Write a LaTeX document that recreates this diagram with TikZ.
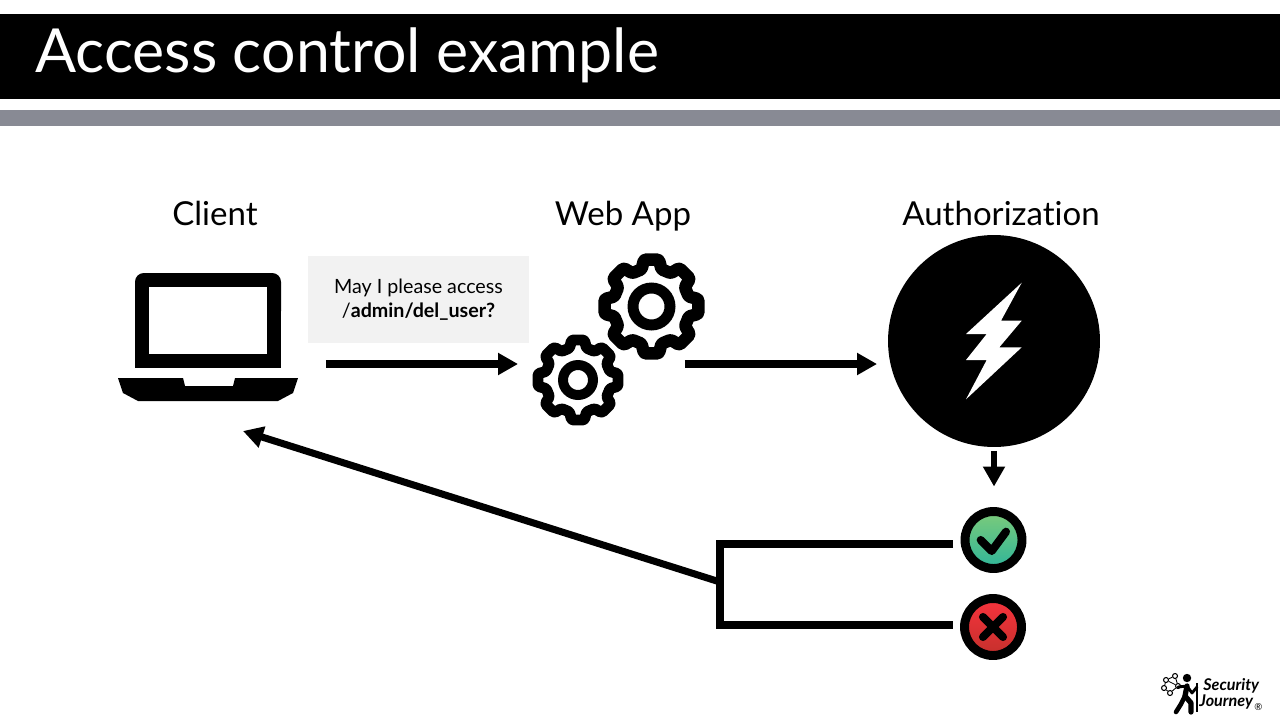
\documentclass[tikz,border=0pt]{standalone}
\usepackage{fontspec}
\setmainfont[Ligatures=NoCommon]{Lato}
\usetikzlibrary{arrows.meta}
\definecolor{barGrey}{HTML}{888A94}
\definecolor{noteGrey}{HTML}{F2F2F2}
\definecolor{okTop}{HTML}{7CCB7A}
\definecolor{okBottom}{HTML}{2FB59A}
\definecolor{noTop}{HTML}{F7333D}
\definecolor{noBottom}{HTML}{C4302C}
\newcommand{\gearicon}[7]{%
  \begin{scope}[shift={(#1,#2)}]
    \draw[line width=#5*0.5669pt, line join=round, rounded corners=0.8pt]
      (22.5:#4) \foreach \a in {45,90,...,360} { -- (\a-15:#4) -- (\a-9:#3) -- (\a+9:#3) -- (\a+15:#4) } -- cycle;
    \draw[line width=#7*0.5669pt] (0,0) circle (#6);
  \end{scope}}
\begin{document}
\begin{tikzpicture}
[
x=0.02cm, y=-0.02cm,
heading/.style={anchor=base, inner sep=0, font=\fontsize{18.8}{22}\selectfont},
iconbox/.style={inner sep=0, outer sep=0},
flow/.style={line width=4pt, -{Triangle[length=0.4cm,width=0.42cm]}},
branch/.style={line width=4pt, line join=miter},
result/.style={circle, draw=black, line width=5.1pt, minimum size=1.14cm, inner sep=0, outer sep=0},
dot/.style={circle, draw=black, line width=0.6pt, minimum size=0.1cm, inner sep=0}
]
\useasboundingbox (0,0) rectangle (1280,720);
%Header
\fill[black] (0,14) rectangle (1280,99);
\fill[barGrey] (0,110) rectangle (1280,126);
\node[anchor=base west, inner sep=0, text=white, font=\fontsize{34.6}{40}\selectfont] (title) at(35,72) {Access control example};
%Nodes
\node[heading] (clientlabel) at(215,225) {Client};
\node[heading] (weblabel) at(623,225) {Web App};
\node[heading] (authlabel) at(1001,225) {Authorization};
\node[iconbox, minimum width=3.6cm, minimum height=2.58cm] (client) at(208,337) {};
\node[iconbox, minimum width=3.46cm, minimum height=3.46cm] (web) at(618.5,339.5) {};
\node[circle, fill=black, minimum size=4.24cm, inner sep=0, outer sep=0] (auth) at(994,341) {};
\node[fill=noteGrey, minimum width=4.42cm, minimum height=1.74cm, inner sep=0, align=center, font=\fontsize{11.2}{13.7}\selectfont] (note) at(418.5,299.5) {\raisebox{-3pt}{May I please access}\\\raisebox{-3pt}{/\textbf{admin/del\_user?}}};
\node[result, top color=okTop, bottom color=okBottom] (check) at(993.5,540) {};
\node[result, top color=noTop, bottom color=noBottom] (cross) at(993,627) {};
%Icons
\fill[black, rounded corners=5pt] (135,320) -- (135,273) -- (281,273) -- (281,320) -- cycle;
\fill[black] (135,300) rectangle (281,368);
\fill[white] (149,287) rectangle (267,354);
\fill[black] (118,378) -- (183,378) -- (185,386) -- (233,386) -- (235,378) -- (298,378) -- (293,393) -- (278,401) -- (138,401) -- (123,393) -- cycle;
\gearicon{651.5}{306.5}{47.5}{38.5}{12.5}{18.5}{11}
\gearicon{578}{380}{40.5}{33}{11}{15}{10}
\fill[white] (1021.7,282.7) -- (1001,320.7) -- (1021.7,320.7) -- (999.3,347.3) -- (1021.7,347.3) -- (966,399.3) -- (986.7,360) -- (966,360) -- (986.7,334) -- (966,334) -- cycle;
\draw[line width=4.6pt, line cap=round, line join=round] (980.7,540) -- (991.7,551) -- (1006,531.7);
\draw[line width=4.6pt, line cap=round] (983,617) -- (1003,637);
\draw[line width=4.6pt, line cap=round] (1003,617) -- (983,637);
%Connectors
\coordinate (rowa) at(0,364);
\coordinate (checkend) at(953,544);
\coordinate (crossend) at(953,625);
\coordinate (joinback) at(720,582);
\coordinate (clientback) at(243,431);
\draw[flow, shorten <=0.56cm, shorten >=0.28cm] (client.east |- rowa) -- (web.west |- rowa);
\draw[flow, shorten <=-0.4cm, shorten >=0.22cm] (web.east |- rowa) -- (auth.west |- rowa);
\draw[flow, shorten <=0.08cm, shorten >=0.5cm, line width=3.8pt] (auth.south) -- (auth.south |- check.north);
\draw[branch] (checkend) -| (joinback) |- (crossend);
\draw[flow] (joinback) -- (clientback);
%Logo
\node[dot] (net1) at(1166,680) {};
\node[dot] (net2) at(1175,676) {};
\node[dot] (net3) at(1164,688) {};
\node[dot] (net4) at(1170,693) {};
\node[dot] (net5) at(1178,686) {};
\draw[line width=0.5pt] (net1) -- (net2) -- (net5) -- (net4) -- (net3) -- (net1) -- (net5);
\fill[black] (1187,678) circle (4.2);
\draw[line width=3pt, line cap=round, line join=round] (1187,686) -- (1185,696) -- (1191,703) -- (1191,712);
\draw[line width=2.6pt, line cap=round, line join=round] (1185,696) -- (1181,704) -- (1176,712);
\draw[line width=1.6pt, line cap=round, line join=round] (1178,687) -- (1187,686) -- (1192,693) -- (1197,687);
\draw[line width=0.9pt] (1197,683) -- (1197,712);
\node[anchor=base west, inner sep=0, font=\fontsize{9.2}{10}\selectfont\bfseries\itshape] (logotop) at(1203,690) {Security};
\node[anchor=base west, inner sep=0, font=\fontsize{9.2}{10}\selectfont\bfseries\itshape] (logobottom) at(1199,706) {Journey};
\node[anchor=base west, inner sep=0, font=\fontsize{5.5}{6}\selectfont] (logomark) at(1254,710) {®};
\end{tikzpicture}
\end{document}
